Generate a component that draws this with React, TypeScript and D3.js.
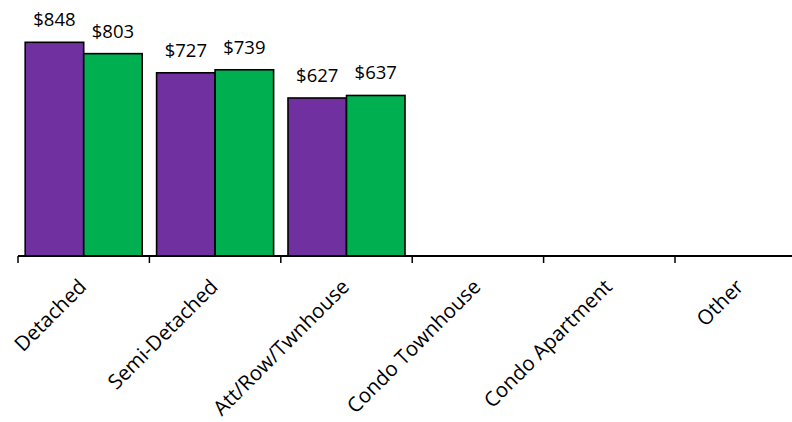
import React from "react";
import * as d3 from "d3";

const categories = ["Detached", "Semi-Detached", "Att/Row/Twnhouse", "Condo Townhouse", "Condo Apartment", "Other"];
const seriesNames = ["Series A", "Series B"];
const seriesA: (number | null)[] = [848, 727, 627, null, null, null];
const seriesB: (number | null)[] = [803, 739, 637, null, null, null];
const colors = ["#7030A0", "#00B050"];

const W = 792;
const H = 422;
const FONT = "'Open Sans', 'Noto Sans', sans-serif";

export default function App() {
  const x0 = d3.scaleBand<string>().domain(categories).range([18, 18 + 6 * 131.4]).paddingInner(0).paddingOuter(0);
  const x1 = d3.scaleBand<string>().domain(seriesNames).range([0, x0.bandwidth()]).paddingInner(0).paddingOuter(0.123);
  const y = d3.scaleLinear().domain([0, 1000]).range([256, 4]);
  const series = [seriesA, seriesB];
  const baseY = y(0);

  return (
    <svg width={W} height={H} style={{ position: "absolute", left: 0, top: 0, background: "#fff" }} fontFamily={FONT}>
      <rect x={0} y={0} width={W} height={H} fill="#fff" />
      {categories.map((c, i) => (
        <g key={c} transform={`translate(${x0(c)},0)`}>
          {series.map((s, j) => {
            const v = s[i];
            if (v == null) return null;
            const bx = x1(seriesNames[j])!;
            return (
              <g key={j}>
                <rect x={bx} y={y(v)} width={x1.bandwidth()} height={baseY - y(v)} fill={colors[j]} stroke="#000" strokeWidth={1.6} />
                <text x={bx + x1.bandwidth() / 2} y={y(v) - 16} textAnchor="middle" fontSize={18.5} fill="#000">
                  {d3.format("$,")(v)}
                </text>
              </g>
            );
          })}
        </g>
      ))}
      <line x1={18} x2={W} y1={baseY} y2={baseY} stroke="#000" strokeWidth={1.8} />
      {categories.map((c) => (
        <line key={"t" + c} x1={x0(c)!} x2={x0(c)!} y1={baseY} y2={baseY + 7} stroke="#000" strokeWidth={1.5} />
      ))}
      {categories.map((c) => {
        const cx = x0(c)! + x0.bandwidth() / 2;
        return (
          <text key={"l" + c} transform={`translate(${cx + 4},${baseY + 32}) rotate(-45)`} textAnchor="end" fontSize={20.5} fill="#000">
            {c}
          </text>
        );
      })}
    </svg>
  );
}
